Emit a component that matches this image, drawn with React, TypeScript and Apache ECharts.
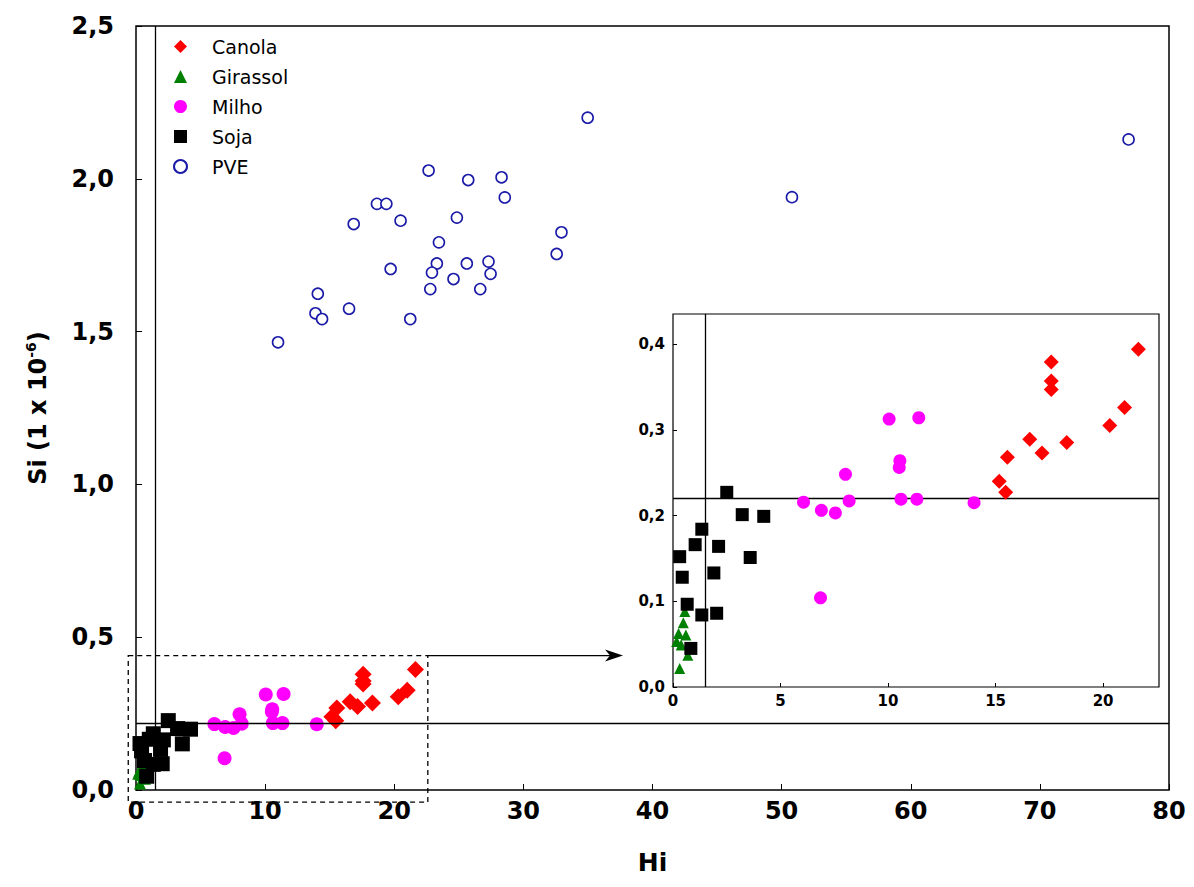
import React, { useEffect, useRef } from "react";
import * as echarts from "echarts";

// [Hi, Si] pairs per oil type
const canola: [number, number][] = [
  [21.64, 0.394], [17.59, 0.379], [17.59, 0.357], [17.59, 0.347],
  [21.0, 0.326], [20.31, 0.305], [16.59, 0.289], [17.16, 0.273],
  [18.31, 0.285], [15.55, 0.268], [15.17, 0.24], [15.47, 0.227],
];
const girassol: [number, number][] = [
  [0.55, 0.088], [0.48, 0.075], [0.26, 0.0625], [0.6, 0.0605],
  [0.17, 0.053], [0.38, 0.049], [0.69, 0.037], [0.31, 0.0215],
];
const milho: [number, number][] = [
  [10.05, 0.3125], [11.43, 0.314], [10.55, 0.264], [10.52, 0.256],
  [8.02, 0.248], [6.07, 0.2156], [6.9, 0.206], [7.55, 0.203],
  [8.19, 0.217], [10.6, 0.219], [11.34, 0.219], [14.0, 0.215],
  [6.86, 0.104],
];
const soja: [number, number][] = [
  [2.5, 0.227], [3.22, 0.201], [4.22, 0.199], [1.34, 0.184],
  [1.03, 0.166], [2.12, 0.164], [0.31, 0.152], [3.59, 0.151],
  [0.43, 0.128], [1.9, 0.133], [0.66, 0.0965], [1.34, 0.084],
  [2.03, 0.086], [0.83, 0.045],
];
const pve: [number, number][] = [
  [34.98, 2.2], [22.66, 2.027], [25.73, 1.996], [28.31, 2.005],
  [28.56, 1.939], [18.66, 1.918], [19.39, 1.918], [16.86, 1.852],
  [20.49, 1.863], [24.85, 1.873], [23.46, 1.792], [32.95, 1.825],
  [32.58, 1.754], [19.72, 1.705], [23.3, 1.723], [22.92, 1.693],
  [25.62, 1.723], [27.3, 1.729], [27.46, 1.689], [24.59, 1.672],
  [22.79, 1.639], [26.66, 1.639], [14.08, 1.624], [16.5, 1.575],
  [13.9, 1.56], [14.41, 1.541], [21.24, 1.541], [11.0, 1.465],
  [50.8, 1.94], [76.87, 2.129],
];

// threshold lines
const hiLimit = 1.5;
const siLimit = 0.222;

// zoom window shown in the inset
const zoomHi: [number, number] = [-0.6, 22.6];
const zoomSi: [number, number] = [-0.04, 0.44];

const mainXTicks = { min: 0, max: 80, interval: 10 };
const mainYTicks = { min: 0, max: 2.5, interval: 0.5 };
const insetXTicks = { min: 0, max: 22.6, interval: 5 };
const insetYTicks = { min: 0, max: 0.435, interval: 0.1 };

const FONT = "DejaVu Sans";

const MAIN = { left: 136, top: 26, width: 1033, height: 764 };
const INSET = { left: 673, top: 314, width: 486, height: 373 };

const comma = (v: number, d: number) => v.toFixed(d).replace(".", ",");
const onStep = (v: number, step: number) =>
  Math.abs(v / step - Math.round(v / step)) < 1e-6;

export default function App() {
  const ref = useRef<HTMLDivElement>(null);

  useEffect(() => {
    if (!ref.current) return;
    const chart = echarts.init(ref.current, undefined, { renderer: "svg" });

    const styles: Record<string, any> = {
      Canola: { symbol: "diamond", main: 17, inset: 15, itemStyle: { color: "#ff0000", opacity: 1 } },
      Girassol: { symbol: "triangle", main: 12, inset: 11, itemStyle: { color: "#008000", opacity: 1 } },
      Milho: { symbol: "circle", main: 14, inset: 13, itemStyle: { color: "#ff00ff", opacity: 1 } },
      Soja: { symbol: "rect", main: 15, inset: 13, itemStyle: { color: "#000000", opacity: 1 } },
      PVE: {
        symbol: "circle", main: 11, inset: 11,
        itemStyle: { color: "#ffffff", borderColor: "#1a1aa8", borderWidth: 1.6, opacity: 1 },
      },
    };
    const sets: [string, [number, number][]][] = [
      ["Canola", canola], ["Girassol", girassol], ["Milho", milho], ["Soja", soja], ["PVE", pve],
    ];

    const refLines = (withLines: boolean) =>
      withLines
        ? {
            markLine: {
              silent: true,
              symbol: "none",
              label: { show: false },
              lineStyle: { color: "#000", type: "solid", width: 1.3 },
              data: [{ xAxis: hiLimit }, { yAxis: siLimit }],
            },
          }
        : {};

    const series: any[] = [];
    sets.forEach(([name, data]) => {
      const s = styles[name];
      series.push({
        type: "scatter", name, data, xAxisIndex: 0, yAxisIndex: 0,
        symbol: s.symbol, symbolSize: s.main, itemStyle: s.itemStyle, z: 3,
        ...refLines(name === "Canola"),
      });
    });
    sets.filter(([n]) => n !== "PVE").forEach(([name, data]) => {
      const s = styles[name];
      series.push({
        type: "scatter", name, data, xAxisIndex: 1, yAxisIndex: 1,
        symbol: s.symbol, symbolSize: s.inset, itemStyle: s.itemStyle, z: 6,
        ...refLines(name === "Canola"),
      });
    });

    const tick = { show: true, inside: true, length: 6, lineStyle: { color: "#000" } };

    chart.setOption({
      animation: false,
      backgroundColor: "#ffffff",
      legend: {
        orient: "vertical",
        left: 168,
        top: 32,
        itemWidth: 13,
        itemHeight: 13,
        itemGap: 11,
        data: ["Canola", "Girassol", "Milho", "Soja", "PVE"],
        textStyle: { fontFamily: FONT, fontSize: 19, color: "#000", padding: [0, 0, 0, 20] },
        selectedMode: false,
      },
      grid: [
        { ...MAIN, show: true, borderColor: "#000", borderWidth: 1.5, backgroundColor: "#fff", z: 0 },
        { ...INSET, show: true, borderColor: "#000", borderWidth: 1.2, backgroundColor: "#fff", z: 5 },
      ],
      xAxis: [
        {
          type: "value", gridIndex: 0, ...mainXTicks,
          splitLine: { show: false }, axisLine: { show: false }, axisTick: tick,
          axisLabel: { fontFamily: FONT, fontWeight: "bold", fontSize: 24, color: "#000", margin: 9 },
          name: "Hi", nameLocation: "middle", nameGap: 60,
          nameTextStyle: { fontFamily: FONT, fontWeight: "bold", fontSize: 25, color: "#000" },
        },
        {
          type: "value", gridIndex: 1, ...insetXTicks, z: 6,
          splitLine: { show: false }, axisLine: { show: false },
          axisTick: { ...tick, length: 4 },
          axisLabel: {
            fontFamily: FONT, fontWeight: "bold", fontSize: 15, color: "#000", margin: 6,
            showMaxLabel: false,
            formatter: (v: number) => (onStep(v, 5) ? String(v) : ""),
          },
        },
      ],
      yAxis: [
        {
          type: "value", gridIndex: 0, ...mainYTicks,
          splitLine: { show: false }, axisLine: { show: false }, axisTick: tick,
          axisLabel: {
            fontFamily: FONT, fontWeight: "bold", fontSize: 24, color: "#000", margin: 22,
            formatter: (v: number) => comma(v, 1),
          },
          name: "Si (1 x 10{sup|-6})", nameLocation: "middle", nameGap: 84,
          nameTextStyle: {
            fontFamily: FONT, fontWeight: "bold", fontSize: 24, color: "#000",
            rich: {
              sup: { fontFamily: FONT, fontWeight: "bold", fontSize: 14, color: "#000", padding: [0, 0, 14, 0] },
            },
          },
        },
        {
          type: "value", gridIndex: 1, ...insetYTicks, z: 6,
          splitLine: { show: false }, axisLine: { show: false },
          axisTick: { ...tick, length: 4 },
          axisLabel: {
            fontFamily: FONT, fontWeight: "bold", fontSize: 15, color: "#000", margin: 8,
            showMaxLabel: false,
            formatter: (v: number) => (onStep(v, 0.1) ? comma(v, 1) : ""),
          },
        },
      ],
      series,
    });

    // dashed zoom frame and arrow, placed through the main axes' scales
    const p0 = chart.convertToPixel({ xAxisIndex: 0, yAxisIndex: 0 } as any, [zoomHi[0], zoomSi[1]]) as number[];
    const p1 = chart.convertToPixel({ xAxisIndex: 0, yAxisIndex: 0 } as any, [zoomHi[1], zoomSi[0]]) as number[];
    const arrowEnd = INSET.left - 50;
    chart.setOption({
      graphic: [
        {
          type: "rect", silent: true, z: 10,
          shape: { x: p0[0], y: p0[1], width: p1[0] - p0[0], height: p1[1] - p0[1] },
          style: { fill: "none", stroke: "#000", lineWidth: 1.3, lineDash: [5, 4] },
        },
        {
          type: "line", silent: true, z: 10,
          shape: { x1: p1[0], y1: p0[1], x2: arrowEnd - 10, y2: p0[1] },
          style: { stroke: "#000", lineWidth: 1.3 },
        },
        {
          type: "polygon", silent: true, z: 10,
          shape: {
            points: [
              [arrowEnd, p0[1]], [arrowEnd - 18, p0[1] - 6],
              [arrowEnd - 13, p0[1]], [arrowEnd - 18, p0[1] + 6],
            ],
          },
          style: { fill: "#000" },
        },
      ],
    });

    return () => chart.dispose();
  }, []);

  return (
    <div
      ref={ref}
      style={{ position: "absolute", left: 0, top: 0, width: 1194, height: 887, background: "#fff" }}
    />
  );
}
